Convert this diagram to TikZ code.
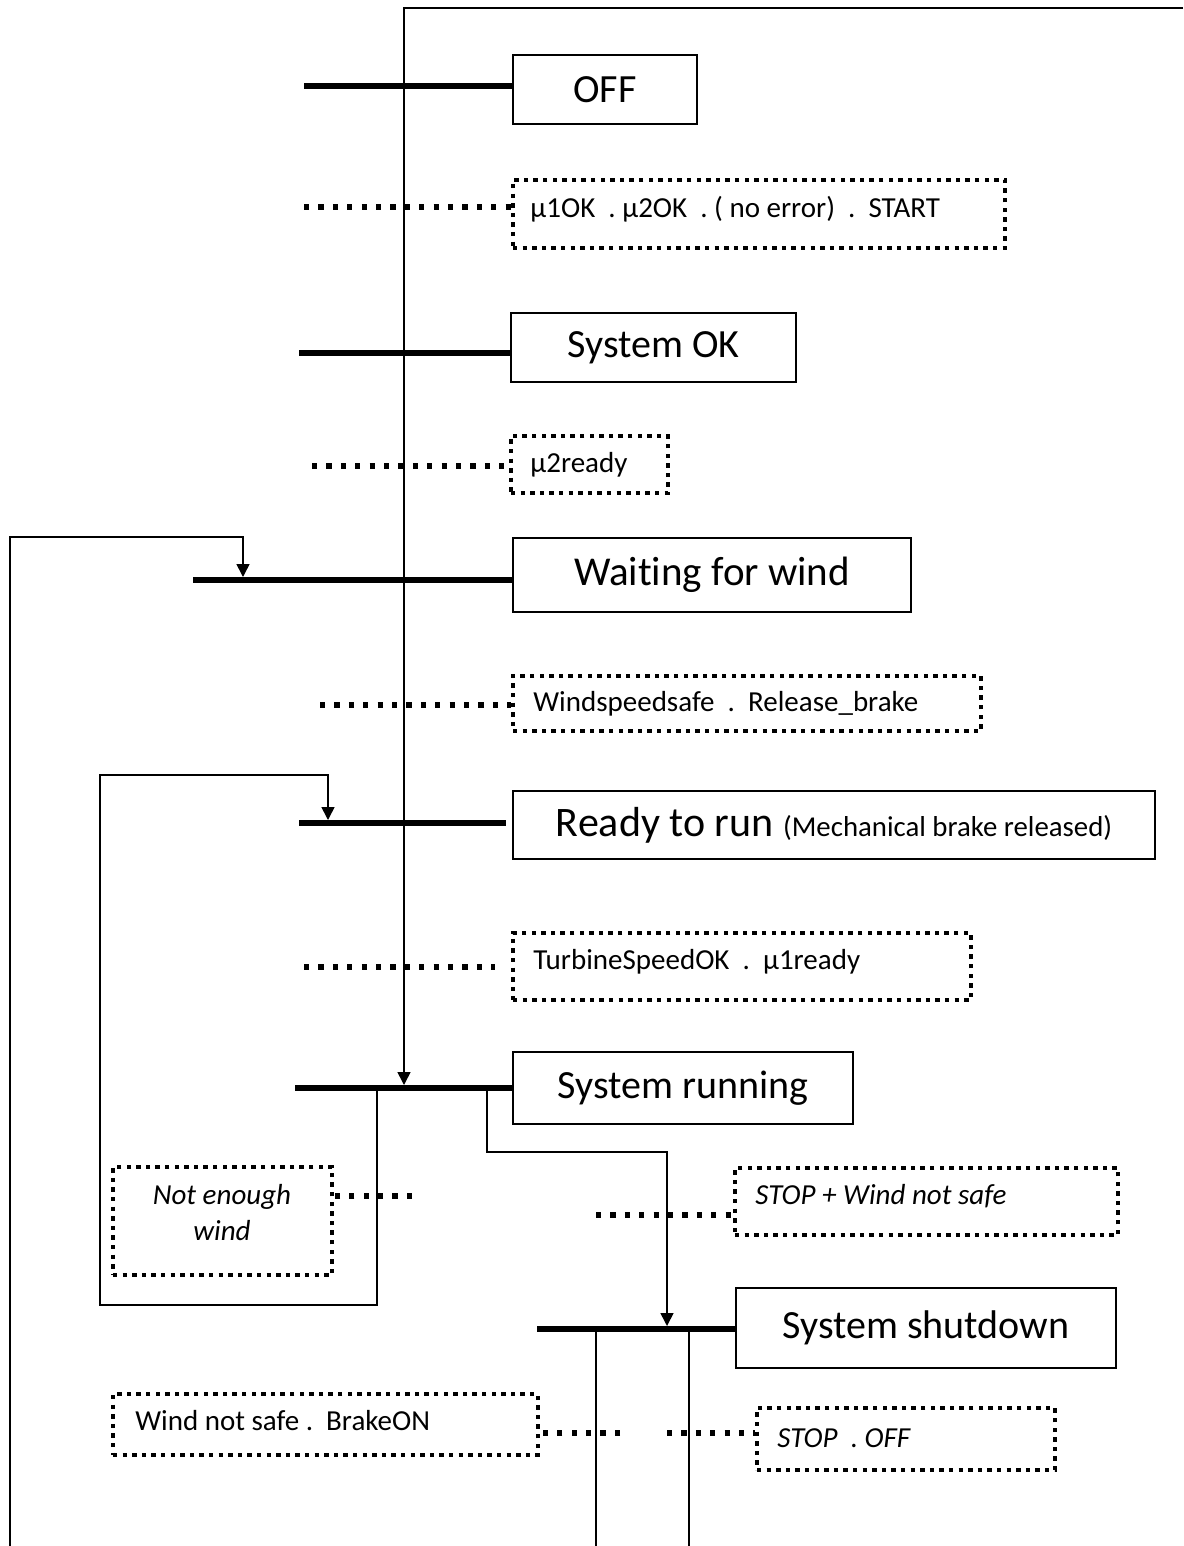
\documentclass[tikz,border=0pt]{standalone}
\usepackage{fontspec}
\setmainfont[Ligatures=NoCommon]{Carlito}
\usetikzlibrary{arrows.meta}
\tikzset{
  mainbox/.style={draw, line width=1pt, inner sep=0pt, font=\fontsize{20}{24}\selectfont},
  dotbox/.style={draw, line width=2pt, dash pattern=on 2.2pt off 2.6pt, inner sep=0pt},
  dotline/.style={line width=2.8pt, dash pattern=on 2.6pt off 4.6pt},
  bar/.style={line width=3pt},
  flow/.style={line width=0.8pt},
  arr/.style={flow, -{Triangle[width=6.5pt,length=6.5pt]}},
  cond/.style={anchor=west, inner sep=0pt, font=\fontsize{14.5}{17}\selectfont},
  icond/.style={cond, font=\fontsize{14.5}{17}\selectfont\itshape},
}
\begin{document}
\begin{tikzpicture}[x=0.5pt,y=-0.5pt]
\useasboundingbox (0,0) rectangle (1183,1546);
% state boxes
\node[mainbox, minimum width=92pt, minimum height=34.5pt] (off) at (605,89.5) {OFF};
\node[mainbox, minimum width=142.5pt, minimum height=34.5pt] (sysok) at (653.5,347.5) {System OK};
\node[mainbox, minimum width=199pt, minimum height=37pt, font=\fontsize{20.5}{24}\selectfont] (wait) at (712,575) {Waiting for wind};
\node[mainbox, minimum width=321pt, minimum height=34pt, font=\fontsize{21}{24}\selectfont] (ready) at (834,825) {Ready to run {\fontsize{14.4}{16}\selectfont (Mechanical brake released)}};
\node[mainbox, minimum width=170pt, minimum height=36pt] (running) at (683,1088) {System running};
\node[mainbox, minimum width=190pt, minimum height=40pt] (shutdown) at (926,1328) {System shutdown};
% condition boxes
\node[dotbox, minimum width=246pt, minimum height=34pt] (c1) at (759,214) {};
\node[cond] (c1t) at (530,209) {µ1OK~~.~µ2OK~~.~( no error)~~.~~START};
\node[dotbox, minimum width=78.5pt, minimum height=28.5pt] (c2) at (589.5,464.5) {};
\node[cond] (c2t) at (530,465) {µ2ready};
\node[dotbox, minimum width=234pt, minimum height=27.5pt] (c3) at (747,703.5) {};
\node[cond] (c3t) at (533,704) {Windspeedsafe~~.~~Release\_brake};
\node[dotbox, minimum width=229pt, minimum height=33.5pt] (c4) at (742,966.5) {};
\node[cond] (c4t) at (533,962) {TurbineSpeedOK~~.~~µ1ready};
\node[dotbox, minimum width=109.5pt, minimum height=54pt] (c5) at (222.5,1221) {};
\node[icond, anchor=center, align=center] (c5t) at (222,1213) {Not enough\\[1pt]wind};
\node[dotbox, minimum width=191.5pt, minimum height=33.5pt] (c6) at (926.5,1201.5) {};
\node[icond] (c6t) at (755,1196) {STOP + Wind not safe};
\node[dotbox, minimum width=212.5pt, minimum height=30.5pt] (c7) at (325.5,1424.5) {};
\node[cond] (c7t) at (135,1421) {Wind not safe~.~~BrakeON};
\node[dotbox, minimum width=149pt, minimum height=31pt] (c8) at (906,1439) {};
\node[icond] (c8t) at (777,1438) {STOP~~.~OFF};
% bars
\draw[bar] (304,86) coordinate (b1) -- (b1 -| off.west);
\draw[bar] (299,353) coordinate (b2) -- (b2 -| sysok.west);
\draw[bar] (193,580) coordinate (b3) -- (b3 -| wait.west);
\draw[bar] (299,823) coordinate (b4) -- (506,823);
\draw[bar] (295,1088) coordinate (b5) -- (b5 -| running.west);
\draw[bar] (537,1329) coordinate (b6) -- (b6 -| shutdown.west);
% dotted connectors
\draw[dotline] (304,207) coordinate (d1) -- (d1 -| c1.west);
\draw[dotline] (312,466) coordinate (d2) -- (d2 -| c2.west);
\draw[dotline] (320,705) coordinate (d3) -- (d3 -| c3.west);
\draw[dotline] (304,967) coordinate (d4) -- (495,967);
\draw[dotline] (412,1196) coordinate (d5) -- (d5 -| c5.east);
\draw[dotline] (596,1215) coordinate (d6) -- (d6 -| c6.west);
\draw[dotline] (620,1433) coordinate (d7) -- (d7 -| c7.east);
\draw[dotline] (667,1433) coordinate (d8) -- (d8 -| c8.west);
% flow lines
\coordinate (e0) at (1183,8);
\coordinate (t5) at (404,1085);
\draw[arr] (e0) -- (404,8) -- (t5);
\coordinate (e1) at (10,1546);
\coordinate (t3) at (243,577);
\draw[arr] (e1) -- (10,537) -- (243,537) -- (t3);
\coordinate (s5a) at (377,1088);
\coordinate (t4) at (328,820);
\draw[arr] (s5a) -- (377,1305) -- (100,1305) -- (100,775) -- (328,775) -- (t4);
\coordinate (s5b) at (487,1088);
\coordinate (t6) at (667,1326);
\draw[arr] (s5b) -- (487,1152) -- (667,1152) -- (t6);
\coordinate (s6a) at (596,1329);
\coordinate (s6b) at (689,1329);
\draw[flow] (s6a) -- (596,1546);
\draw[flow] (s6b) -- (689,1546);
\end{tikzpicture}
\end{document}
